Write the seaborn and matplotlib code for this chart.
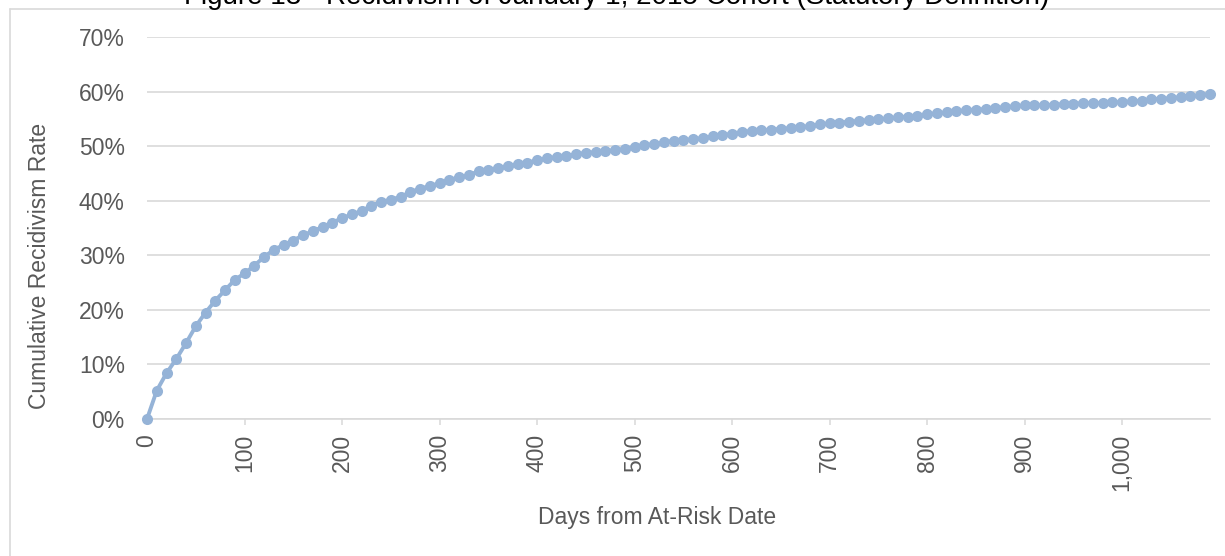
import matplotlib
matplotlib.use("Agg")
import matplotlib.pyplot as plt
import matplotlib.ticker as mticker
from matplotlib.lines import Line2D
import pandas as pd
import seaborn as sns

# Cumulative recidivism, every 10 days
title = "Figure 13 - Recidivism of January 1, 2015 Cohort (Statutory Definition)"
xlabel = "Days from At-Risk Date"
ylabel = "Cumulative Recidivism Rate"

days = list(range(0, 1100, 10))
rate_pct = [
    0.0, 5.2, 8.4, 11.0, 13.9, 17.0, 19.5, 21.7, 23.6, 25.5,
    26.7, 28.1, 29.7, 31.0, 31.9, 32.7, 33.7, 34.4, 35.2, 36.0,
    36.8, 37.5, 38.1, 39.1, 39.8, 40.2, 40.7, 41.6, 42.2, 42.7,
    43.2, 43.8, 44.3, 44.7, 45.4, 45.7, 46.0, 46.4, 46.7, 47.0,
    47.4, 47.8, 48.0, 48.2, 48.5, 48.8, 48.9, 49.1, 49.3, 49.5,
    49.9, 50.2, 50.4, 50.7, 51.0, 51.1, 51.3, 51.5, 51.8, 52.0,
    52.3, 52.6, 52.8, 52.9, 53.0, 53.2, 53.3, 53.5, 53.7, 54.0,
    54.2, 54.3, 54.5, 54.6, 54.8, 54.9, 55.1, 55.3, 55.4, 55.6,
    55.9, 56.0, 56.2, 56.4, 56.6, 56.7, 56.8, 57.0, 57.2, 57.3,
    57.5, 57.5, 57.5, 57.6, 57.7, 57.8, 57.9, 57.9, 57.9, 58.0,
    58.1, 58.2, 58.3, 58.6, 58.7, 58.8, 59.0, 59.2, 59.3, 59.6,
]
xtick_vals = [0, 100, 200, 300, 400, 500, 600, 700, 800, 900, 1000]
xtick_labels = ["0", "100", "200", "300", "400", "500", "600", "700", "800", "900", "1,000"]
ytick_vals = [0.0, 0.1, 0.2, 0.3, 0.4, 0.5, 0.6, 0.7]

df = pd.DataFrame({"days": days, "rate": [r / 100 for r in rate_pct]})

sns.set_theme(style="white")
plt.rcParams["font.family"] = ["Liberation Sans", "DejaVu Sans"]

W, H = 1225, 556
fig = plt.figure(figsize=(W / 100, H / 100), dpi=100)
ax = fig.add_axes([147 / W, 1 - 419 / H, (1210 - 147) / W, (419 - 37) / H])

grey = "#d9d9d9"
txt = "#595959"
blue = "#95b3d7"

sns.lineplot(data=df, x="days", y="rate", ax=ax, color=blue, linewidth=2.8)
# seaborn tends to reset marker sizing, so style the drawn line directly
for ln in ax.lines:
    ln.set_marker("o")
    ln.set_markersize(8.0)
    ln.set_markerfacecolor(blue)
    ln.set_markeredgewidth(0)
    ln.set_clip_on(False)
    ln.set_zorder(3)

ax.set_xlim(0, 1090)
ax.set_ylim(0, 0.7)
ax.set_yticks(ytick_vals)
ax.yaxis.set_major_formatter(mticker.PercentFormatter(1.0, decimals=0))
ax.set_xticks(xtick_vals)
ax.set_xticklabels(xtick_labels, rotation=90)

ax.grid(axis="y", color=grey, linewidth=1.2)
ax.grid(axis="x", visible=False)
for s in ["top", "right", "left"]:
    ax.spines[s].set_visible(False)
ax.spines["bottom"].set_color(grey)
ax.spines["bottom"].set_linewidth(1.2)

ax.tick_params(axis="y", length=0, pad=16, labelsize=16.5, labelcolor=txt)
ax.tick_params(axis="x", length=4.3, width=1.1, color=grey, direction="out",
               pad=6.5, labelsize=16.5, labelcolor=txt, bottom=True)

ax.set_xlabel(xlabel, fontsize=16.5, color=txt)
ax.xaxis.set_label_coords((657 - 147) / 1063, (419 - 506) / 382)
ax.set_ylabel(ylabel, fontsize=16.5, color=txt)
ax.yaxis.set_label_coords((51 - 147) / 1063, (419 - 266) / 382)

# chart frame (only top and left edges fall inside the image)
fig.add_artist(Line2D([10 / W, 1], [1 - 9 / H, 1 - 9 / H], color=grey, linewidth=1.2))
fig.add_artist(Line2D([10 / W, 10 / W], [0, 1 - 9 / H], color=grey, linewidth=1.2))

# the title sits partly above the top edge, as in the reference
fig.text(617 / W, 1 - 4 / H, title, ha="center", va="baseline",
         fontsize=20, color="#000000")

plt.savefig("out.png", dpi=100)
